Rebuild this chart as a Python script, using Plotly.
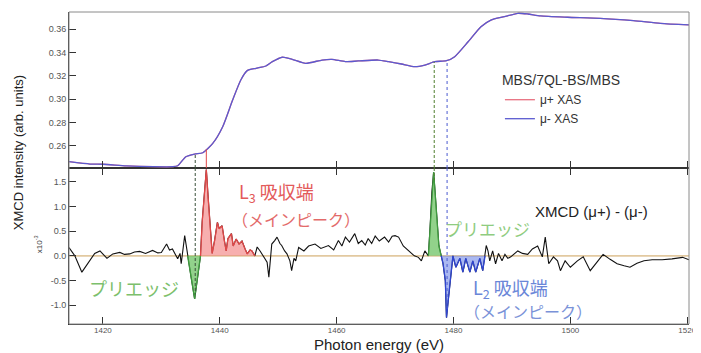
import numpy as np
import plotly.graph_objects as go

# ---------------- data ----------------
xas_energy = [1414.2, 1417.8, 1420.0, 1424.0, 1428.6, 1432.0, 1432.8, 1434.2, 1435.7, 1437.1,
              1438.8, 1440.5, 1442.2, 1443.6, 1444.7, 1446.2, 1447.9, 1449.0, 1450.7, 1452.4,
              1454.7, 1457.5, 1459.2, 1461.5, 1463.7, 1467.1, 1468.9, 1471.1, 1473.4, 1475.1,
              1476.8, 1478.8, 1480.2, 1482.5, 1484.7, 1486.4, 1488.7, 1491.0, 1492.7, 1494.9,
              1499.5, 1505.1, 1510.8, 1515.4, 1520.3]
xas_mu_plus = [0.2463, 0.2443, 0.2441, 0.2428, 0.2420, 0.2420, 0.2428, 0.2506, 0.2529, 0.2540,
               0.2620, 0.2763, 0.2992, 0.3164, 0.3244, 0.3264, 0.3284, 0.3321, 0.3359, 0.3341,
               0.3307, 0.3335, 0.3341, 0.3321, 0.3327, 0.3335, 0.3321, 0.3301, 0.3278, 0.3292,
               0.3321, 0.3329, 0.3364, 0.3492, 0.3621, 0.3678, 0.3707, 0.3736, 0.3730, 0.3713,
               0.3702, 0.3693, 0.3673, 0.3650, 0.3636]
xas_mu_minus = [0.2463, 0.2443, 0.2441, 0.2428, 0.2420, 0.2420, 0.2428, 0.2506, 0.2529, 0.2540,
                0.2620, 0.2763, 0.2992, 0.3164, 0.3244, 0.3264, 0.3284, 0.3321, 0.3359, 0.3341,
                0.3307, 0.3335, 0.3341, 0.3321, 0.3327, 0.3335, 0.3321, 0.3301, 0.3278, 0.3292,
                0.3321, 0.3329, 0.3364, 0.3492, 0.3621, 0.3678, 0.3707, 0.3736, 0.3730, 0.3713,
                0.3702, 0.3693, 0.3673, 0.3650, 0.3636]

xmcd_energy = [1414.2, 1415.2, 1416.4, 1417.4, 1418.6, 1419.5, 1420.7, 1421.7, 1422.9, 1423.7,
               1424.6, 1425.4, 1426.3, 1427.3, 1428.5, 1429.4, 1430.0, 1430.9, 1431.4, 1431.9,
               1432.4, 1432.8, 1433.2, 1433.4, 1434.0, 1434.5, 1434.9, 1435.1, 1435.7, 1436.2,
               1436.5, 1436.7, 1437.0, 1437.4, 1437.7, 1438.0, 1438.4, 1438.7, 1439.1, 1439.6,
               1439.9, 1440.4, 1440.8, 1441.1, 1441.4, 1442.0, 1442.3, 1442.8, 1443.3, 1443.8,
               1444.3, 1444.7, 1445.2, 1445.5, 1446.0, 1446.4, 1446.9, 1447.2, 1447.7, 1448.1,
               1448.4, 1448.9, 1449.4, 1449.8, 1450.3, 1450.6, 1451.1, 1451.5, 1452.0, 1452.3,
               1452.7, 1453.0, 1453.5, 1454.4, 1455.2, 1456.3, 1457.3, 1458.6, 1459.5, 1460.3,
               1460.9, 1461.5, 1462.2, 1463.1, 1463.7, 1464.3, 1464.9, 1465.4, 1466.0, 1466.6,
               1467.3, 1468.2, 1468.9, 1469.5, 1470.0, 1470.6, 1471.4, 1472.3, 1473.3, 1474.0,
               1474.5, 1475.1, 1475.7, 1476.0, 1476.3, 1476.6, 1476.9, 1477.2, 1477.5, 1477.9,
               1478.2, 1478.6, 1478.8, 1479.1, 1479.4, 1479.9, 1480.4, 1481.1, 1481.6, 1482.1,
               1482.8, 1483.3, 1483.8, 1484.5, 1485.0, 1485.4, 1485.6, 1485.9, 1486.2, 1486.7,
               1487.2, 1487.7, 1488.3, 1488.8, 1489.3, 1489.8, 1490.5, 1491.0, 1491.8, 1492.7,
               1493.5, 1494.4, 1495.2, 1495.7, 1496.3, 1497.1, 1497.8, 1498.3, 1499.1, 1500.0,
               1501.2, 1502.2, 1503.4, 1504.6, 1505.6, 1506.8, 1508.0, 1509.2, 1510.2, 1511.4,
               1512.6, 1514.0, 1515.7, 1517.4, 1519.2, 1520.3]
xmcd_value = [0.17, 0.00, -0.33, -0.15, 0.05, 0.10, -0.05, 0.04, 0.07, 0.03,
              0.04, 0.08, 0.09, 0.05, 0.11, 0.06, 0.07, 0.24, 0.12, 0.14,
              0.02, -0.06, 0.05, -0.16, 0.41, 0.00, -0.25, -0.43, -0.87, -0.43,
              -0.10, 0.00, 0.70, 1.30, 1.75, 1.20, 0.45, 0.05, 0.30, 0.68,
              0.55, 0.61, 0.30, 0.10, 0.35, 0.45, 0.20, 0.34, 0.24, 0.30,
              0.15, 0.04, 0.12, 0.10, 0.00, 0.18, 0.10, 0.04, -0.05, -0.13,
              -0.43, 0.24, 0.31, 0.38, 0.25, 0.21, 0.10, 0.04, -0.10, -0.30,
              -0.05, -0.10, 0.17, 0.10, 0.20, 0.24, 0.15, 0.21, 0.12, 0.31,
              0.20, 0.38, 0.28, 0.45, 0.25, 0.31, 0.22, 0.35, 0.25, 0.40,
              0.30, 0.38, 0.28, 0.40, 0.41, 0.38, 0.20, 0.10, 0.00, -0.03,
              -0.10, 0.10, 0.00, 0.60, 1.30, 1.70, 1.20, 0.60, 0.20, 0.00,
              -0.15, -0.50, -1.25, -0.90, -0.50, 0.00, -0.23, -0.05, -0.33, -0.05,
              -0.33, -0.10, -0.33, -0.05, -0.30, 0.00, 0.21, 0.10, -0.10, 0.10,
              -0.16, 0.05, -0.10, 0.03, -0.05, -0.02, 0.06, 0.10, 0.05, 0.03,
              0.14, 0.20, -0.02, 0.38, -0.16, -0.02, -0.10, -0.30, -0.10, -0.23,
              -0.10, -0.02, -0.30, -0.13, 0.03, -0.07, -0.16, -0.20, -0.23, -0.15,
              -0.10, -0.08, -0.08, -0.06, -0.03, -0.08]

# highlighted regions of the XMCD curve (energy limits)
segment_lo = [1434.5, 1436.7, 1475.7, 1477.9]
segment_hi = [1436.7, 1446.0, 1477.9, 1485.4]

# edge marker energies
marker_energy = [1435.8, 1437.7, 1476.7, 1478.9]

top_ticks = [0.26, 0.28, 0.30, 0.32, 0.34, 0.36]
bottom_ticks = [-1.0, -0.5, 0.0, 0.5, 1.0, 1.5]
bottom_ticktext = ["-1.0", "-0.5", "0.0", "0.5", "1.0", "1.5"]
x_ticks = [1420, 1440, 1460, 1480, 1500, 1520]

# ---------------- styling ----------------
FONT = "Liberation Sans, Arial, sans-serif"
JP = "Noto Sans CJK JP, sans-serif"
XR = [1414.2, 1520.3]
YTOP = [0.2409, 0.3747]
YBOT = [-1.38, 1.78]

seg_line = ["#3f9a3f", "#e04848", "#3f9a3f", "#2f45d0"]
seg_fill = ["rgba(110,195,100,0.75)", "rgba(240,110,110,0.55)",
            "rgba(110,195,100,0.75)", "rgba(100,125,230,0.55)"]
marker_color = ["#3a4f3a", "#e04848", "#4f7f2f", "#4a5ad0"]
marker_dash = ["3px,2px", "solid", "3px,2px", "dot"]

E = np.array(xmcd_energy)
V = np.array(xmcd_value)

fig = go.Figure()

fig.add_trace(go.Scatter(x=xas_energy, y=xas_mu_plus, xaxis="x2", yaxis="y2",
                         mode="lines", name="μ+ XAS",
                         line=dict(color="#e87080", width=1.3, shape="spline", smoothing=0.6)))
fig.add_trace(go.Scatter(x=xas_energy, y=xas_mu_minus, xaxis="x2", yaxis="y2",
                         mode="lines", name="μ- XAS",
                         line=dict(color="#5a5ad0", width=1.3, shape="spline", smoothing=0.6)))

fig.add_trace(go.Scatter(x=xmcd_energy, y=xmcd_value, xaxis="x", yaxis="y", mode="lines",
                         line=dict(color="#111111", width=1.1), showlegend=False))

for lo, hi, lc, fc in zip(segment_lo, segment_hi, seg_line, seg_fill):
    m = (E >= lo) & (E <= hi)
    fig.add_trace(go.Scatter(x=E[m], y=V[m], xaxis="x", yaxis="y", mode="lines",
                             fill="tozeroy", fillcolor=fc,
                             line=dict(color=lc, width=1.3), showlegend=False))

shapes = []
# zero line of XMCD panel
shapes.append(dict(type="line", xref="paper", yref="y", x0=0, x1=1, y0=0, y1=0,
                   line=dict(color="#e2c9a0", width=1.6), layer="below"))
# edge markers
for e, c, d in zip(marker_energy, marker_color, marker_dash):
    top_v = float(np.interp(e, xas_energy, xas_mu_minus))
    bot_v = float(np.interp(e, xmcd_energy, xmcd_value))
    shapes.append(dict(type="line", xref="x2", yref="y2", x0=e, x1=e, y0=YTOP[0], y1=top_v,
                       line=dict(color=c, width=1, dash=d)))
    if d != "solid":
        shapes.append(dict(type="line", xref="x", yref="y", x0=e, x1=e, y0=YBOT[1], y1=bot_v,
                           line=dict(color=c, width=1, dash=d)))
# outer frame
shapes.append(dict(type="rect", xref="paper", yref="paper", x0=0, x1=1, y0=0, y1=1,
                   line=dict(color="#8a8a8a", width=1)))

axis_common = dict(ticks="inside", ticklen=7, tickcolor="#333", showline=True,
                   linecolor="#333", linewidth=1, showgrid=False, zeroline=False)
ytick_font = dict(family=FONT, size=9, color="#555")
xtick_font = dict(family=FONT, size=8, color="#555")

# The page body has an 8px margin, so the figure is made 8px smaller and the
# plot area is placed so that it lands at window px 69..692 x 12..324.
W, H = 693, 345
L, R, T, B = 61, 9, 4, 29
PX0, PX1, PY0, PY1 = 69, 692, 12, 324   # plot area in window pixels


def px(x):
    return (x - PX0) / (PX1 - PX0)


def py(y):
    return (PY1 - y) / (PY1 - PY0)


annotations = [
    dict(text="XMCD intensity (arb. units)", x=px(19), y=py(153), textangle=-90,
         font=dict(family=FONT, size=13, color="#222")),
    dict(text="x10<sup>-3</sup>", x=px(38), y=py(244), textangle=-90,
         font=dict(family=FONT, size=8, color="#444")),
    dict(text="Photon energy (eV)", x=px(380), y=py(344),
         font=dict(family=FONT, size=15, color="#222")),
    dict(text="L<sub>3</sub> 吸収端", x=px(239), y=py(193), xanchor="left",
         font=dict(family=JP, size=18, color="#e35a5a")),
    dict(text="（メインピーク）", x=px(232), y=py(219), xanchor="left",
         font=dict(family=JP, size=16, color="#e36a6a")),
    dict(text="プリエッジ", x=px(134), y=py(288),
         font=dict(family=JP, size=18, color="#7cc06c")),
    dict(text="プリエッジ", x=px(490), y=py(228),
         font=dict(family=JP, size=17, color="#8fcc80")),
    dict(text="L<sub>2</sub> 吸収端", x=px(474), y=py(288), xanchor="left",
         font=dict(family=JP, size=18, color="#6a86d8")),
    dict(text="（メインピーク）", x=px(465), y=py(311), xanchor="left",
         font=dict(family=JP, size=16, color="#7a92d8")),
    dict(text="XMCD (μ+) - (μ-)", x=px(536), y=py(212), xanchor="left",
         font=dict(family=FONT, size=15, color="#222")),
]
for a in annotations:
    a.setdefault("xanchor", "center")
    a.update(xref="paper", yref="paper", yanchor="middle", showarrow=False, borderpad=0)

fig.update_layout(
    width=W, height=H,
    margin=dict(l=L, r=R, t=T, b=B),
    paper_bgcolor="white", plot_bgcolor="white",
    xaxis=dict(domain=[0, 1], anchor="y", range=XR, tickvals=x_ticks,
               mirror="ticks", tickfont=xtick_font, ticklabelstandoff=-2, **axis_common),
    xaxis2=dict(domain=[0, 1], anchor="y2", range=XR, matches="x", tickvals=x_ticks,
                showticklabels=False, **axis_common),
    yaxis=dict(domain=[0, 0.5], anchor="x", range=YBOT, tickvals=bottom_ticks,
               ticktext=bottom_ticktext, tickfont=ytick_font, ticklabelstandoff=0,
               **axis_common),
    yaxis2=dict(domain=[0.5, 1], anchor="x2", range=YTOP, tickvals=top_ticks,
                tickformat=".2f", tickfont=ytick_font, ticklabelstandoff=0, **axis_common),
    showlegend=True,
    legend=dict(x=px(502), y=py(67), xanchor="left", yanchor="top",
                bgcolor="rgba(255,255,255,0)", borderwidth=0,
                title=dict(text="MBS/7QL-BS/MBS", font=dict(family=FONT, size=14, color="#333")),
                font=dict(family=FONT, size=12, color="#333"),
                itemwidth=30, tracegroupgap=0),
    shapes=shapes,
    annotations=annotations,
)

fig.write_html("out.html")
